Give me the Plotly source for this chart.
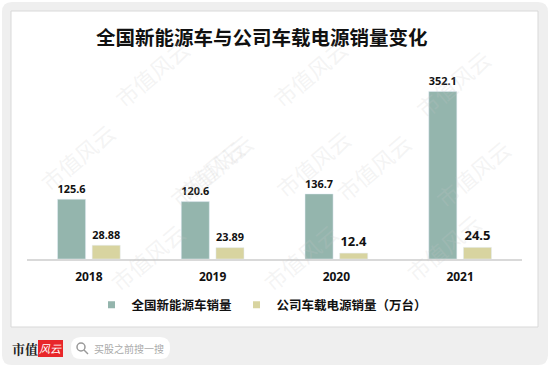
import plotly.graph_objects as go

years = ["2018", "2019", "2020", "2021"]
nev_sales = [125.6, 120.6, 136.7, 352.1]
power_sales = [28.88, 23.89, 12.4, 24.5]
series_names = ["全国新能源车销量", "公司车载电源销量（万台）"]
title_text = "全国新能源车与公司车载电源销量变化"

W, H = 550, 367
ML, MR, MT, MB = 27, 28, 80, 108
PW, PH = W - ML - MR, H - MT - MB


def px(x):
    return (x - ML) / PW


def py(y):
    return (H - MB - y) / PH


def rrect(x0, y0, x1, y1, r):
    a0, a1 = px(x0), px(x1)
    b0, b1 = py(y0), py(y1)
    rx, ry = r / PW, r / PH
    return (f"M{a0+rx},{b0} L{a1-rx},{b0} Q{a1},{b0} {a1},{b0-ry} "
            f"L{a1},{b1+ry} Q{a1},{b1} {a1-rx},{b1} L{a0+rx},{b1} "
            f"Q{a0},{b1} {a0},{b1+ry} L{a0},{b0-ry} Q{a0},{b0} {a0+rx},{b0} Z")


CJK = "Noto Sans CJK SC"
GREEN = "#94b5ad"
YELLOW = "#d8d4a0"
colors = [GREEN, YELLOW]

fig = go.Figure()
for vals, name, col in [(nev_sales, series_names[0], GREEN), (power_sales, series_names[1], YELLOW)]:
    fig.add_trace(go.Bar(
        x=years, y=vals, name=name, marker_color=col, showlegend=False,
        text=[str(v) for v in vals], textposition="outside", cliponaxis=False,
        textfont=dict(family="Noto Sans", size=13, color="#111", weight="bold"),
    ))
# legend entries with small square swatches
for name, col in zip(series_names, colors):
    fig.add_trace(go.Scatter(
        x=[None], y=[None], mode="markers", name=name,
        marker=dict(symbol="square", size=7, color=col), showlegend=True,
    ))

shapes = [
    dict(type="path", path=rrect(2, 2, 548, 365, 10), xref="paper", yref="paper",
         fillcolor="#efefef", line=dict(width=0), layer="below"),
    dict(type="rect", x0=px(11), x1=px(538), y0=py(11), y1=py(327), xref="paper", yref="paper",
         fillcolor="#ffffff", line=dict(color="#d9d9d9", width=1), layer="below"),
    dict(type="rect", x0=px(38), x1=px(63), y0=py(340), y1=py(357), xref="paper", yref="paper",
         fillcolor="#e8262a", line=dict(width=0), layer="below"),
    dict(type="path", path=rrect(71, 337, 170, 359, 10), xref="paper", yref="paper",
         fillcolor="#ffffff", line=dict(width=0), layer="below"),
    dict(type="circle", x0=px(77), x1=px(85), y0=py(343), y1=py(351), xref="paper", yref="paper",
         line=dict(color="#999", width=1.5), layer="above"),
    dict(type="line", x0=px(84), x1=px(88), y0=py(350), y1=py(354), xref="paper", yref="paper",
         line=dict(color="#999", width=1.5), layer="above"),
]

annotations = [
    dict(text=title_text, x=px(262), y=py(36), xref="paper", yref="paper", showarrow=False,
         font=dict(family=CJK, size=19.5, color="#111", weight="bold"), xanchor="center", yanchor="middle"),
    dict(text="市值", x=px(25), y=py(348), xref="paper", yref="paper", showarrow=False,
         font=dict(family="Noto Serif CJK SC, " + CJK, size=13, color="#222", weight="bold"),
         xanchor="center", yanchor="middle"),
    dict(text="<i>风云</i>", x=px(50.5), y=py(348), xref="paper", yref="paper", showarrow=False,
         font=dict(family=CJK, size=11, color="#ffffff"), xanchor="center", yanchor="middle"),
    dict(text="买股之前搜一搜", x=px(92), y=py(348), xref="paper", yref="paper", showarrow=False,
         font=dict(family=CJK, size=10, color="#aaaaaa"), xanchor="left", yanchor="middle"),
]

wm_pos = [(105, 30), (310, 30), (500, 40), (160, 130), (360, 120), (30, 200),
          (215, 210), (420, 210), (100, 300), (300, 300), (490, 290), (520, 130)]
for (wx, wy) in wm_pos:
    annotations.append(dict(text="市值风云", x=px(wx), y=py(wy), xref="paper", yref="paper",
                            showarrow=False, textangle=-40,
                            font=dict(family=CJK, size=22, color="rgba(200,200,200,0.2)")))

fig.update_layout(
    width=W, height=H,
    margin=dict(l=ML, r=MR, t=MT, b=MB),
    paper_bgcolor="#ffffff", plot_bgcolor="rgba(0,0,0,0)",
    barmode="group", bargap=0.44, bargroupgap=0.19,
    showlegend=True,
    legend=dict(orientation="h", x=px(262), y=py(305), xref="paper", yref="paper",
                xanchor="center", yanchor="middle",
                font=dict(family=CJK, size=12.5, color="#111", weight="bold"),
                itemwidth=30, bgcolor="rgba(0,0,0,0)", tracegroupgap=0),
    xaxis=dict(showgrid=False, showline=True, linecolor="#d9d9d9", linewidth=1.5,
               ticks="outside", ticklen=6, tickcolor="rgba(0,0,0,0)",
               tickfont=dict(family="Noto Sans", size=12, color="#111", weight="bold")),
    yaxis=dict(range=[0, 376], visible=False, showgrid=False, zeroline=False),
    shapes=shapes, annotations=annotations,
)

fig.write_html("out.html", config={"displayModeBar": False},
               post_script="document.body.style.margin='0';document.body.style.overflow='hidden';")
